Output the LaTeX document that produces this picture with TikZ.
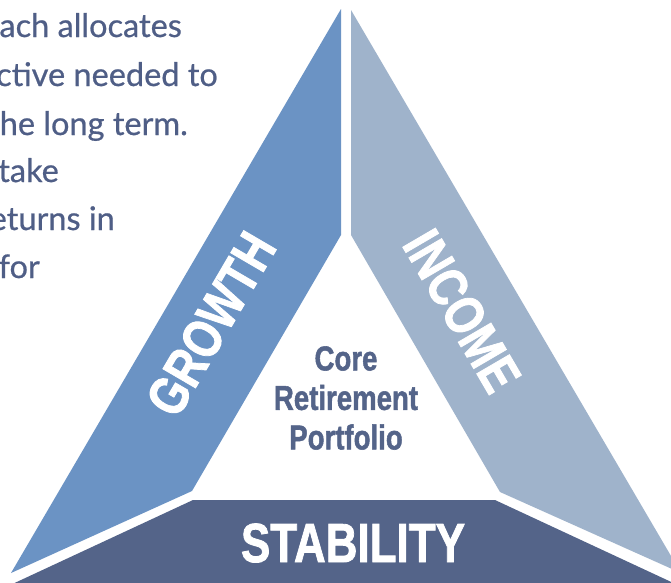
\documentclass[tikz,border=0pt]{standalone}
\usepackage{fontspec}
\usepackage{graphicx}
\setmainfont{Lato}
\newfontfamily\bodyfont[FakeBold=0.6]{Lato}
\newfontfamily\condfont[FakeBold=1.6]{Liberation Sans}
\newcommand{\cnd}[1]{\scalebox{0.8}[1]{#1}}
\definecolor{growthc}{HTML}{6B93C4}
\definecolor{incomec}{HTML}{9FB3CB}
\definecolor{stabc}{HTML}{546489}
\definecolor{textc}{HTML}{4F5E86}
\tikzset{
  bodytext/.style={anchor=base east, inner sep=0pt, text=textc, font=\bodyfont\fontsize{32.5}{32.5}\selectfont},
  bandlabel/.style={inner sep=0pt, text=white, font=\condfont\bfseries\fontsize{55}{55}\selectfont},
  corelabel/.style={inner sep=0pt, text=stabc, align=center, font=\condfont\bfseries\fontsize{34.5}{39.5}\selectfont}
}
\begin{document}
\begin{tikzpicture}[x=1pt,y=-1pt]
\useasboundingbox (0,0) rectangle (671,582);
\fill[white] (0,0) rectangle (671,582);
\begin{scope}
\clip (0,0) rectangle (671,582);
\fill[growthc] (341,9) -- (341,235) -- (192,491) -- (11,573) -- cycle;
\fill[incomec] (351,10) -- (351,235) -- (500,492) -- (681,573) -- cycle;
\fill[stabc] (193,500) -- (495,500) -- (710,600) -- (-22,600) -- cycle;
\end{scope}
\node[bodytext] (l1) at (182,37) {ach allocates};
\node[bodytext] (l2) at (218,86) {ctive needed to};
\node[bodytext] (l3) at (188,135) {he long term.};
\node[bodytext] (l4) at (59,182) {take};
\node[bodytext] (l5) at (115,230) {eturns in};
\node[bodytext] (l6) at (40,278) {for};
\node[bandlabel, rotate=59.7] (growth) at (211,324) {\cnd{GROWTH}};
\node[bandlabel, rotate=-59.7] (income) at (462,311) {\cnd{INCOME}};
\node[bandlabel, anchor=base] (stability) at (353,562) {\cnd{STABILITY}};
\node[corelabel] (core) at (346,398) {\cnd{Core}\\\cnd{Retirement}\\\cnd{Portfolio}};
\end{tikzpicture}
\end{document}
